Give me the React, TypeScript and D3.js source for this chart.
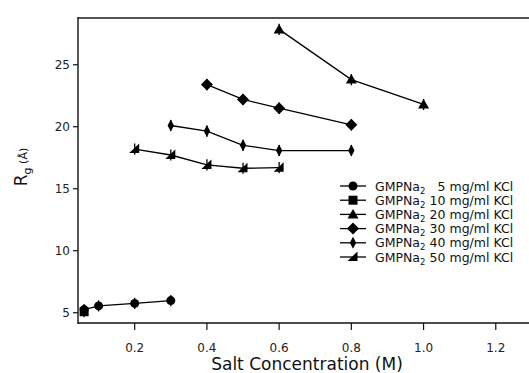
import { useMemo } from 'react'
import * as d3 from 'd3'

// Salt concentration (M) for each series
const X_5 = [0.06, 0.1, 0.2, 0.3]
const X_10 = [0.06]
const X_20 = [0.6, 0.8, 1.0]
const X_30 = [0.4, 0.5, 0.6, 0.8]
const X_40 = [0.3, 0.4, 0.5, 0.6, 0.8]
const X_50 = [0.2, 0.3, 0.4, 0.5, 0.6]

// Rg values (Å)
const RG_5 = [5.25, 5.55, 5.75, 5.98]
const RG_10 = [5.08]
const RG_20 = [27.85, 23.8, 21.8]
const RG_30 = [23.4, 22.2, 21.5, 20.15]
const RG_40 = [20.1, 19.65, 18.5, 18.08, 18.08]
const RG_50 = [18.2, 17.72, 16.92, 16.65, 16.7]

const ERR = 0.45

const CONC = ['5', '10', '20', '30', '40', '50']
const MARKERS = ['circle', 'square', 'triangle', 'diamond', 'thinDiamond', 'halfTriangle']

const X_TICKS = [0.2, 0.4, 0.6, 0.8, 1.0, 1.2]
const Y_TICKS = [5, 10, 15, 20, 25]

const W = 529
const H = 373
const FONT = '"DejaVu Sans", Verdana, sans-serif'

function markerPath(kind: string): string {
  switch (kind) {
    case 'circle':
      return 'M4.5,0A4.5,4.5 0 1,1 -4.5,0A4.5,4.5 0 1,1 4.5,0Z'
    case 'square':
      return 'M-4.5,-4.5H4.5V4.5H-4.5Z'
    case 'triangle':
      return 'M0,-5.5L5.5,4L-5.5,4Z'
    case 'diamond':
      return 'M0,-6L6,0L0,6L-6,0Z'
    case 'thinDiamond':
      return 'M0,-6L3.2,0L0,6L-3.2,0Z'
    default:
      return 'M4.5,-5.5V4H-5.5Z'
  }
}

export default function App() {
  const series = useMemo(
    () => [
      { xs: X_5, ys: RG_5 },
      { xs: X_10, ys: RG_10 },
      { xs: X_20, ys: RG_20 },
      { xs: X_30, ys: RG_30 },
      { xs: X_40, ys: RG_40 },
      { xs: X_50, ys: RG_50 },
    ],
    []
  )

  const left = 78
  const top = 18
  const bottom = 323

  const x = d3.scaleLinear().domain([0.043, 1.292]).range([left, W])
  const y = d3.scaleLinear().domain([4.17, 28.77]).range([bottom, top])

  const line = d3
    .line<[number, number]>()
    .x((d) => x(d[0]))
    .y((d) => y(d[1]))

  return (
    <div style={{ position: 'fixed', left: 0, top: 0 }}>
      <svg width={W} height={H} style={{ display: 'block', background: '#fff' }} fontFamily={FONT}>
        {/* frame */}
        <line x1={left} x2={W} y1={top} y2={top} stroke="#555" strokeWidth={2.2} />
        <line x1={left} x2={left} y1={top - 1} y2={bottom + 1} stroke="#111" strokeWidth={1.4} />
        <line x1={left} x2={W} y1={bottom} y2={bottom} stroke="#111" strokeWidth={1.4} />

        {/* y ticks */}
        {Y_TICKS.map((t) => (
          <g key={t}>
            <line x1={left - 5} x2={left} y1={y(t)} y2={y(t)} stroke="#111" strokeWidth={1.2} />
            <text x={left - 8} y={y(t)} dy="0.36em" textAnchor="end" fontSize={12} fill="#222">
              {t}
            </text>
          </g>
        ))}

        {/* x ticks */}
        {X_TICKS.map((t) => (
          <g key={t}>
            <line x1={x(t)} x2={x(t)} y1={bottom} y2={bottom + 7} stroke="#111" strokeWidth={1.2} />
            <text x={x(t)} y={bottom + 28.5} textAnchor="middle" fontSize={12} fill="#222">
              {t.toFixed(1)}
            </text>
          </g>
        ))}

        {/* axis titles */}
        <text x={307} y={370} textAnchor="middle" fontSize={17} fill="#111">
          Salt Concentration (M)
        </text>
        <text transform="translate(27,167) rotate(-90)" textAnchor="middle" fill="#111">
          <tspan fontSize={17}>R</tspan>
          <tspan fontSize={11} dy={4}>g</tspan>
          <tspan fontSize={11} dy={-4}> (Å)</tspan>
        </text>

        {/* data */}
        {series.map((s, i) => {
          const pts = s.xs.map((v, j) => [v, s.ys[j]] as [number, number])
          return (
            <g key={i}>
              {pts.length > 1 && (
                <path d={line(pts) ?? ''} fill="none" stroke="#000" strokeWidth={1.3} />
              )}
              {pts.map((p, j) => (
                <g key={j} transform={`translate(${x(p[0])},${y(p[1])})`}>
                  <line
                    x1={0}
                    x2={0}
                    y1={y(p[1] - ERR) - y(p[1])}
                    y2={y(p[1] + ERR) - y(p[1])}
                    stroke="#000"
                    strokeWidth={1.3}
                  />
                  <path d={markerPath(MARKERS[i])} fill="#000" />
                </g>
              ))}
            </g>
          )
        })}

        {/* legend */}
        {CONC.map((c, i) => {
          const ly = 186 + i * 14.2
          return (
            <g key={c}>
              <line x1={340} x2={366} y1={ly} y2={ly} stroke="#000" strokeWidth={1.3} />
              <path d={markerPath(MARKERS[i])} transform={`translate(353,${ly})`} fill="#000" />
              <text x={375} y={ly} dy="0.36em" fontSize={12.5} fill="#111">
                GMPNa<tspan fontSize={8.5} dy={3}>2</tspan>
              </text>
              <text x={445.5} y={ly} dy="0.36em" fontSize={12.5} fill="#111" textAnchor="end">
                {c}
              </text>
              <text x={449.5} y={ly} dy="0.36em" fontSize={12.5} fill="#111">
                mg/ml KCl
              </text>
            </g>
          )
        })}
      </svg>
    </div>
  )
}
